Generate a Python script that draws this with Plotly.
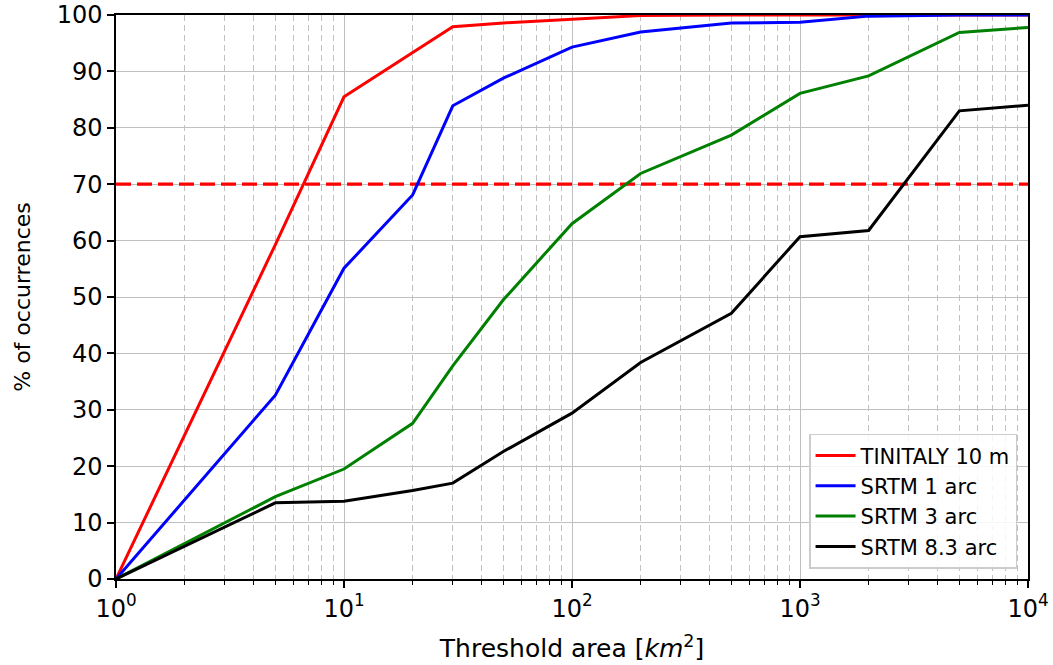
import plotly.graph_objects as go

thresholds = [1, 5, 10, 20, 30, 50, 100, 200, 500, 1000, 2000, 5000, 10000]
tinitaly_10m = [0, 59.3, 85.5, 93.3, 97.9, 98.6, 99.3, 99.9, 100, 100, 100, 100, 100]
srtm_1arc = [0, 32.6, 55.1, 68.1, 83.9, 88.8, 94.3, 97.0, 98.6, 98.7, 99.8, 100, 100]
srtm_3arc = [0, 14.6, 19.5, 27.6, 37.8, 49.5, 63.0, 71.9, 78.7, 86.1, 89.2, 96.9, 97.8]
srtm_83arc = [0, 13.5, 13.8, 15.7, 17.0, 22.6, 29.4, 38.4, 47.1, 60.7, 61.8, 83.0, 84.0]
reference_level = 70

series = [
    ("TINITALY 10 m", tinitaly_10m, "#ff0000"),
    ("SRTM 1 arc", srtm_1arc, "#0000ff"),
    ("SRTM 3 arc", srtm_3arc, "#008000"),
    ("SRTM 8.3 arc", srtm_83arc, "#000000"),
]

x_tickvals = [1, 10, 100, 1000, 10000]
x_ticktext = ["10<sup>0</sup>", "10<sup>1</sup>", "10<sup>2</sup>", "10<sup>3</sup>", "10<sup>4</sup>"]
y_tickvals = list(range(0, 101, 10))

font_family = "DejaVu Sans"

fig = go.Figure()

# reference threshold line
fig.add_trace(go.Scatter(
    x=[thresholds[0], thresholds[-1]], y=[reference_level, reference_level],
    mode="lines", line=dict(color="#ff0000", width=3.3, dash="15px,6px"),
    showlegend=False, hoverinfo="skip"))

for name, vals, col in series:
    fig.add_trace(go.Scatter(x=thresholds, y=vals, mode="lines", name=name,
                             line=dict(color=col, width=3)))

fig.update_layout(
    width=1053, height=665,
    margin=dict(l=116, r=25, t=15, b=86),
    paper_bgcolor="white", plot_bgcolor="white",
    font=dict(family=font_family, color="black", size=22),
    legend=dict(
        x=0.988, y=0.018, xanchor="right", yanchor="bottom",
        bgcolor="rgba(255,255,255,0.85)", bordercolor="#cccccc", borderwidth=1.5,
        font=dict(size=21, family=font_family), tracegroupgap=0,
        itemwidth=40,
    ),
    xaxis=dict(
        type="log", range=[0, 4], automargin=False,
        tickvals=x_tickvals, ticktext=x_ticktext,
        ticks="outside", ticklen=7, tickwidth=1.5, tickcolor="black",
        showline=True, linecolor="black", linewidth=1.5, mirror=True,
        showgrid=True, gridcolor="#c0c0c0", gridwidth=1.4,
        minor=dict(dtick="D1", ticks="outside", ticklen=4, tickcolor="black", tickwidth=1,
                   showgrid=True, gridcolor="#c0c0c0", griddash="6px,4px", gridwidth=1.4),
        title=dict(text="Threshold area [<i>km</i><sup>2</sup>]", standoff=18,
                   font=dict(size=25)),
        tickfont=dict(size=24),
        zeroline=False,
    ),
    yaxis=dict(
        range=[0, 100], tickvals=y_tickvals, automargin=False,
        ticks="outside", ticklen=7, tickwidth=1.5, tickcolor="black",
        showline=True, linecolor="black", linewidth=1.5, mirror=True,
        showgrid=True, gridcolor="#c0c0c0", gridwidth=1.4,
        title=dict(text="% of occurrences", standoff=20, font=dict(size=22)),
        tickfont=dict(size=24),
        zeroline=False,
    ),
)

fig.write_html("out.html")
